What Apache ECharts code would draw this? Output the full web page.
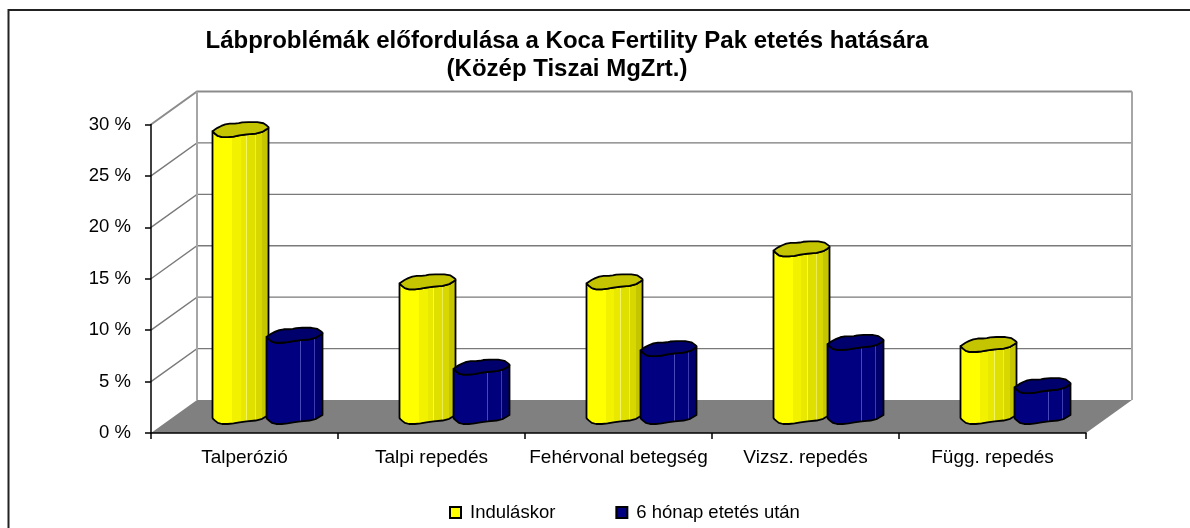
<!DOCTYPE html>
<html>
<head>
<meta charset="utf-8">
<title>Lábproblémák</title>
<script src="https://cdn.jsdelivr.net/npm/echarts@6/dist/echarts.min.js"></script>
<style>
  html, body { margin: 0; padding: 0; background: #fff; }
  #chart { width: 1190px; height: 528px; }
</style>
</head>
<body>
<div id="chart"></div>
<script>
const categories = ['Talperózió', 'Talpi repedés', 'Fehérvonal betegség', 'Vizsz. repedés', 'Függ. repedés'];
const startValues = [27.9, 13.1, 13.1, 16.3, 7.0];
const afterValues = [7.9, 4.8, 6.6, 7.2, 3.0];
const wallTicks = [0, 5, 10, 15, 20, 25, 30];
const titleLines = 'Lábproblémák előfordulása a Koca Fertility Pak etetés hatására\n(Közép Tiszai MgZrt.)';

// 3d look of the old office chart
const depthX = 46, depthY = -33;
const barShift = 27, barHalfW = 28, barHalfH = 7.5;
// lumpy cylinder outline, clockwise, in half widths / half heights of the cap
const capCorners = [[-1, 0.2], [-0.76, -0.38], [-0.47, -0.8], [-0.12, -0.8], [0.12, -1], [0.76, -1], [1, -0.38],
  [1, -0.2], [0.7, 0.48], [0.06, 0.7], [-0.35, 1], [-0.76, 1], [-0.96, 0.4]];

// corner cutting so the outline reads round, keeps the two side points where the body starts
function roundOff(pts) {
  const out = [];
  pts.forEach((p, i) => {
    const n = pts[(i + 1) % pts.length];
    out.push([p[0] * 0.75 + n[0] * 0.25, p[1] * 0.75 + n[1] * 0.25]);
    out.push([p[0] * 0.25 + n[0] * 0.75, p[1] * 0.25 + n[1] * 0.75]);
  });
  return out;
}
const capOutline = roundOff(capCorners);
// index 14 is just after the right side point, last ones run back to the left side point
const frontEdge = [[1, -0.2]].concat(capOutline.slice(15), [[-1, 0.2]]);

function bands(list) {
  // hard colour stops, [start, end, colour]
  const stops = [];
  list.forEach(b => {
    stops.push({ offset: b[0], color: b[2] });
    stops.push({ offset: b[1], color: b[2] });
  });
  return new echarts.graphic.LinearGradient(0, 0, 1, 0, stops);
}

const yellowBody = bands([[0, 0.35, '#ffff00'], [0.35, 0.5, '#f2f200'], [0.5, 0.6, '#e8e800'], [0.6, 0.615, '#f4f460'],
  [0.615, 0.75, '#e0e000'], [0.75, 0.765, '#ecec50'], [0.765, 0.88, '#d8d800'], [0.88, 1, '#c6c600']]);
const blueBody = bands([[0, 0.6, '#000080'], [0.6, 0.615, '#4848b8'], [0.615, 0.84, '#00007c'], [0.84, 0.85, '#3c3cb0'],
  [0.85, 1, '#00006c']]);

function renderBar(side, bodyFill, capFill) {
  return function (params, api) {
    const top = api.coord([api.value(0), api.value(1)]);
    const zero = api.coord([api.value(0), 0]);
    const cx = top[0] + depthX / 2 + side * barShift;
    const topY = top[1] + depthY / 2;
    const baseY = zero[1] + depthY / 2;
    const at = (p, y) => [cx + p[0] * barHalfW, y + p[1] * barHalfH];
    const body = frontEdge.map(p => at(p, topY)).concat(frontEdge.slice().reverse().map(p => at(p, baseY)));
    const line = { stroke: '#000', lineWidth: 1.8, lineJoin: 'round' };
    return {
      type: 'group',
      children: [
        { type: 'polygon', shape: { points: body }, style: Object.assign({ fill: bodyFill }, line) },
        { type: 'polygon', shape: { points: capOutline.map(p => at(p, topY)) }, style: Object.assign({ fill: capFill }, line) }
      ]
    };
  };
}

function renderWalls(params, api) {
  const box = params.coordSys;
  const left = box.x, right = box.x + box.width;
  const y0 = api.coord([0, 0])[1];
  const topBack = api.coord([0, wallTicks[wallTicks.length - 1]])[1] + depthY;
  const children = [
    { type: 'polygon', shape: { points: [[left, y0], [right, y0], [right + depthX, y0 + depthY], [left + depthX, y0 + depthY]] },
      style: { fill: '#808080' } }
  ];
  wallTicks.forEach(t => {
    const y = api.coord([0, t])[1];
    if (t > 0) {
      children.push({ type: 'polyline', shape: { points: [[left, y], [left + depthX, y + depthY], [right + depthX, y + depthY]] },
        style: { fill: null, stroke: t === 30 ? '#8c8c8c' : '#7a7a7a', lineWidth: t === 30 ? 2 : 1.4 } });
    }
  });
  [left + depthX, right + depthX].forEach(x => {
    children.push({ type: 'line', shape: { x1: x, y1: topBack, x2: x, y2: y0 + depthY },
      style: { stroke: '#a6a6a6', lineWidth: 2 } });
  });
  return { type: 'group', children: children };
}

const chart = echarts.init(document.getElementById('chart'), null, { renderer: 'canvas' });
chart.setOption({
  animation: false,
  backgroundColor: '#fff',
  textStyle: { fontFamily: '"Liberation Sans", Arial, sans-serif' },
  title: {
    text: titleLines,
    left: 562,
    top: 22,
    textAlign: 'center',
    textStyle: { fontFamily: '"Liberation Sans", Arial, sans-serif', fontSize: 24, fontWeight: 'bold', color: '#000', lineHeight: 28 }
  },
  legend: {
    left: 444,
    top: 498,
    itemWidth: 11,
    itemHeight: 11,
    itemGap: 60,
    icon: 'rect',
    data: ['Induláskor', '6 hónap etetés után'],
    textStyle: { fontSize: 18.5, color: '#000', padding: [0, 0, 0, 4] }
  },
  grid: { left: 151, right: 104, top: 124.5, height: 308.5 },
  xAxis: {
    type: 'category',
    data: categories,
    z: 10,
    axisLine: { lineStyle: { color: '#000', width: 1.5 } },
    axisTick: { show: true, length: 6, lineStyle: { color: '#000', width: 1.5 } },
    axisLabel: { color: '#000', fontSize: 19, margin: 15, interval: 0 }
  },
  yAxis: {
    type: 'value',
    min: 0,
    max: 30,
    interval: 5,
    z: 10,
    axisLine: { show: true, lineStyle: { color: '#000', width: 1.5 } },
    axisTick: { show: true, length: 6, lineStyle: { color: '#000', width: 1.5 } },
    splitLine: { show: false },
    axisLabel: { color: '#000', fontSize: 18.5, margin: 20, formatter: '{value} %' }
  },
  graphic: [
    { type: 'polyline', z: 20, shape: { points: [[1190, 10], [8.5, 10], [8.5, 528]] }, style: { fill: null, stroke: '#222', lineWidth: 2 } }
  ],
  series: [
    { type: 'custom', name: 'walls', z: 1, silent: true, clip: false, renderItem: renderWalls, data: [[0, 0]], encode: { x: 0, y: 1 } },
    { type: 'custom', name: 'Induláskor', z: 2, clip: false, renderItem: renderBar(-1, yellowBody, '#c4c400'),
      itemStyle: { color: '#ffff00', borderColor: '#000', borderWidth: 1.5 },
      data: startValues.map((v, i) => [i, v]), encode: { x: 0, y: 1 } },
    { type: 'custom', name: '6 hónap etetés után', z: 3, clip: false, renderItem: renderBar(1, blueBody, '#00006c'),
      itemStyle: { color: '#000080', borderColor: '#000', borderWidth: 1.5 },
      data: afterValues.map((v, i) => [i, v]), encode: { x: 0, y: 1 } }
  ]
});
</script>
</body>
</html>
